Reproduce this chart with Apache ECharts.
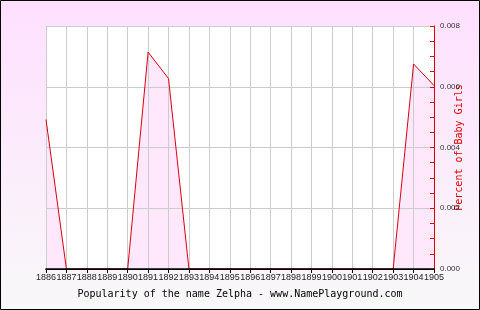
<!DOCTYPE html>
<html><head><meta charset="utf-8">
<script src="https://cdn.jsdelivr.net/npm/echarts@6/dist/echarts.min.js"></script>
<style>html,body{margin:0;padding:0;}#c{width:480px;height:310px;}</style>
</head><body><div id="c"></div>
<script>
const years = ['1886','1887','1888','1889','1890','1891','1892','1893','1894','1895','1896','1897','1898','1899','1900','1901','1902','1903','1904','1905'];
const percentGirls = [0.00492,0,0,0,0,0.00714,0.00627,0,0,0,0,0,0,0,0,0,0,0,0.00675,0.00604];
const yTicks = {min:0, max:0.008, interval:0.002};
const titleText = 'Popularity of the name Zelpha - www.NamePlayground.com';
const yName = 'Percent of Baby Girls';

const chart = echarts.init(document.getElementById('c'), null, {renderer:'canvas'});
chart.setOption({
  animation:false,
  backgroundColor:{type:'linear',x:0,y:0,x2:0,y2:1,colorStops:[{offset:0,color:'#ffe0ff'},{offset:1,color:'#f8f8f8'}]},
  title:{text:titleText,left:'center',top:284,textStyle:{fontFamily:'DejaVu Sans Mono',fontSize:10,fontWeight:'normal',color:'#000'}},
  grid:{left:46,right:46,top:26,bottom:41,show:true,backgroundColor:'#fff',borderWidth:0,outerBoundsMode:'none',containLabel:false},
  xAxis:[{type:'category',data:years,boundaryGap:false,z:2,
    axisLine:{lineStyle:{color:'#000',width:1}},
    axisTick:{show:true,length:4,lineStyle:{color:'#000'}},
    axisLabel:{interval:0,margin:4,fontFamily:'Liberation Sans',fontSize:9,color:'#222',hideOverlap:false},
    splitLine:{show:true,lineStyle:{color:'#ccc',width:1}}},
   {type:'category',data:years,boundaryGap:false,position:'bottom',z:10,
    axisLine:{show:true,lineStyle:{color:'#000',width:1.5}},
    axisTick:{show:false},axisLabel:{show:false},splitLine:{show:false}}],
  yAxis:{type:'value',position:'right',min:yTicks.min,max:yTicks.max,interval:yTicks.interval,z:2,
    name:yName,nameLocation:'middle',nameGap:20,nameMoveOverlap:false,
    nameTextStyle:{color:'#dd0000',fontFamily:'DejaVu Sans Mono',fontSize:10},
    axisLine:{show:true,lineStyle:{color:'#dd0000',width:1}},
    axisTick:{show:true,inside:true,length:4,lineStyle:{color:'#dd0000'}},
    minorTick:{show:true,splitNumber:4,length:4,lineStyle:{color:'#dd0000'}},
    axisLabel:{margin:6,fontFamily:'Liberation Sans',fontSize:8,color:'#333',formatter:v=>v.toFixed(3)},
    splitLine:{show:true,lineStyle:{color:'#ccc',width:1}}},
  series:[
    {type:'line',data:percentGirls,symbol:'none',z:1,
     lineStyle:{width:0,opacity:0},
     areaStyle:{color:'#ffe8fc',opacity:1}},
    {type:'line',data:percentGirls,symbol:'none',z:3,
     lineStyle:{color:'#d80010',width:1}}],
  graphic:[{type:'rect',shape:{x:0.5,y:0.5,width:479,height:309},style:{fill:null,stroke:'#000',lineWidth:1},z:100}]
});
</script></body></html>
